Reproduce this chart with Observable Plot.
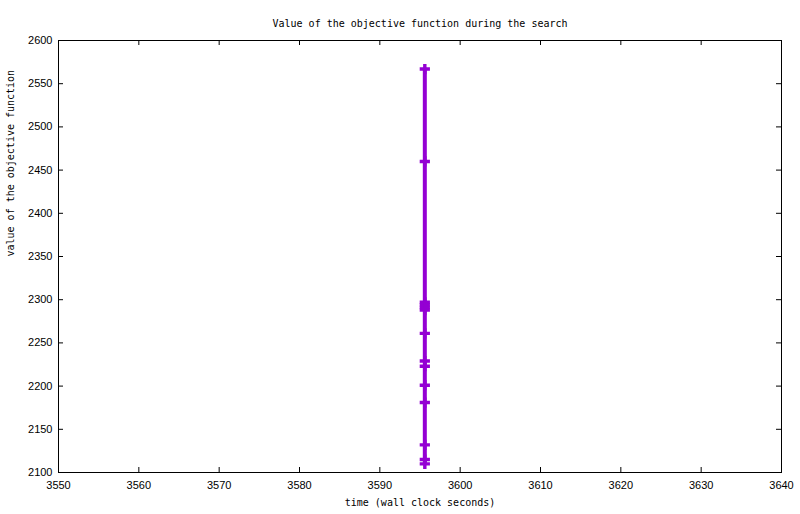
<!DOCTYPE html>
<html>
<head>
<meta charset="utf-8">
<script src="https://cdn.jsdelivr.net/npm/d3@7"></script>
<script src="https://cdn.jsdelivr.net/npm/@observablehq/plot@0.6"></script>
<style>
  body { margin: 0; background: #fff; }
</style>
</head>
<body>
<div id="chart"></div>
<script>
// valeurs
const times = [3595.6, 3595.6, 3595.6, 3595.6, 3595.6, 3595.6, 3595.6, 3595.6, 3595.6, 3595.6, 3595.6, 3595.6, 3595.6, 3595.6]
const objective = [2567, 2460, 2297, 2294, 2291, 2288, 2261, 2229, 2223, 2201, 2181, 2132, 2115, 2110]
const xTicks = [3550, 3560, 3570, 3580, 3590, 3600, 3610, 3620, 3630, 3640]
const yTicks = [2100, 2150, 2200, 2250, 2300, 2350, 2400, 2450, 2500, 2550, 2600]

const data = times.map((t, i) => ({ time: t, value: objective[i] }))

const W = 800, H = 514
const mL = 58, mR = 19, mT = 40, mB = 42
const frameW = W - mL - mR
const frameH = H - mT - mB
const violet = "#9400d3"
const mono = "'DejaVu Sans Mono', monospace"

let chart = Plot.plot({
    width: W,
    height: H,
    marginLeft: mL,
    marginRight: mR,
    marginTop: mT,
    marginBottom: mB,
    style: { fontFamily: "'Liberation Sans', Arial, sans-serif", fontSize: "11px", background: "#fff", color: "#000" },
    x: { domain: [3550, 3640] },
    y: { domain: [2100, 2600] },
    marks: [
        Plot.frame({ stroke: "#000", strokeWidth: 1 }),
        // petites graduations vers l'intérieur, sur les 4 côtés
        Plot.tickX(xTicks, { x: d => d, insetTop: frameH - 5, stroke: "#000" }),
        Plot.tickX(xTicks, { x: d => d, insetBottom: frameH - 5, stroke: "#000" }),
        Plot.tickY(yTicks, { y: d => d, insetRight: frameW - 5, stroke: "#000" }),
        Plot.tickY(yTicks, { y: d => d, insetLeft: frameW - 5, stroke: "#000" }),
        Plot.axisX(xTicks, { tickSize: 0, tickPadding: 9, label: null, tickFormat: d => String(d) }),
        Plot.axisY(yTicks, { tickSize: 0, tickPadding: 6, label: null, tickFormat: d => String(d) }),
        Plot.line(data, { x: "time", y: "value", stroke: violet, strokeWidth: 4 }),
        Plot.dot(data, { x: "time", y: "value", symbol: "cross", r: 4.3, fill: violet, stroke: "none" }),
        Plot.text(["Value of the objective function during the search"], {
            frameAnchor: "top", dy: -21, fontFamily: mono, fontSize: 10
        }),
        Plot.text(["time (wall clock seconds)"], {
            frameAnchor: "bottom", dy: 33, fontFamily: mono, fontSize: 10
        }),
        Plot.text(["value of the objective function"], {
            frameAnchor: "left", dx: -48, rotate: -90, fontFamily: mono, fontSize: 10
        })
    ]
})

d3.select('#chart').append(() => chart)
</script>
</body>
</html>
